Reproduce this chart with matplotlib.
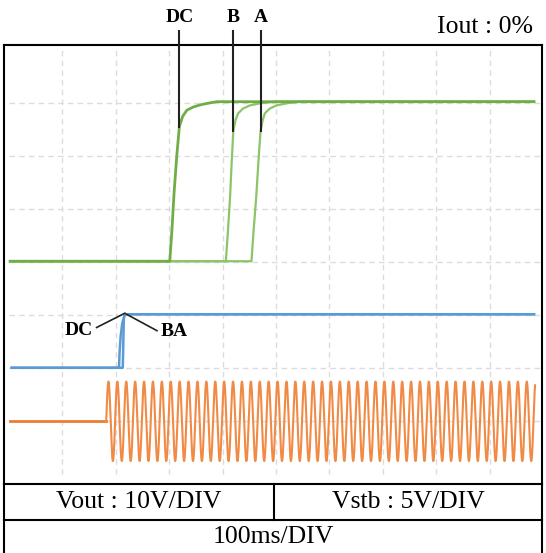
import numpy as np
import matplotlib.pyplot as plt
from matplotlib.lines import Line2D

# time axis in divisions (100 ms/DIV), amplitude in divisions
# Vout traces (green)
vout_dc_t = [0.02, 3.01, 3.05, 3.09, 3.14, 3.19, 3.25, 3.33, 3.45, 3.58, 3.72, 3.89, 9.83]
vout_dc_v = [4.02, 4.02, 4.60, 5.30, 6.00, 6.56, 6.75, 6.87, 6.93, 6.97, 7.00, 7.03, 7.03]
vout_b_t = [0.02, 4.06, 4.10, 4.14, 4.17, 4.20, 4.24, 4.29, 4.38, 4.51, 4.70, 4.98, 9.83]
vout_b_v = [4.02, 4.02, 4.60, 5.25, 5.90, 6.48, 6.68, 6.81, 6.90, 6.96, 7.00, 7.03, 7.03]
vout_a_t = [0.02, 4.54, 4.58, 4.63, 4.67, 4.71, 4.75, 4.79, 4.88, 5.01, 5.20, 5.45, 9.83]
vout_a_v = [4.02, 4.02, 4.60, 5.25, 5.90, 6.48, 6.68, 6.81, 6.90, 6.96, 7.00, 7.03, 7.03]

# Vstb traces (blue)
vstb_dc_t = [0.05, 2.06, 2.07, 2.09, 2.12, 2.17, 9.83]
vstb_dc_v = [2.01, 2.01, 2.30, 2.60, 2.85, 3.02, 3.02]
vstb_ba_t = [0.05, 2.13, 2.15, 2.17, 9.83]
vstb_ba_v = [2.01, 2.01, 2.95, 3.02, 3.02]

# AC input (orange): 60 Hz, switched on at 1.82 div
ac_level = 1.0
ac_amp = 0.75
ac_freq_hz = 60
ms_per_div = 100
ac_on = 1.82
trace_end = 9.85

labels_top = ['DC', 'B', 'A']
labels_top_x = [3.19, 4.20, 4.72]
labels_top_knee = [6.56, 6.48, 6.48]

fig = plt.figure(figsize=(5.46, 5.53), dpi=100)
W, H = 546, 553
ax = fig.add_axes([4 / W, (H - 484) / H, (542 - 4) / W, (484 - 45) / H])
ax.set_xlim(-0.094, 9.98)
ax.set_ylim(-0.183, 8.1)
ax.set_xticks([])
ax.set_yticks([])
for s in ax.spines.values():
    s.set_linewidth(1.5)
    s.set_color('black')

grid_kw = dict(color='#dcdcdc', lw=1.0, ls=(0, (4, 3)), zorder=0)
ax.vlines(range(1, 10), 0, 8, **grid_kw)
ax.hlines(range(1, 8), 0, 10, **grid_kw)

# orange AC trace
t_flat = np.array([0.02, ac_on])
t_ac = np.linspace(ac_on, trace_end, 3000)
cyc_per_div = ac_freq_hz * ms_per_div / 1000
ax.plot(t_flat, [ac_level, ac_level], color='#ed7d31', lw=2.0)
ax.plot(t_ac, ac_level + ac_amp * np.sin(2 * np.pi * cyc_per_div * (t_ac - ac_on)),
        color='#f08a45', lw=1.5)

# blue Vstb
ax.plot(vstb_ba_t, vstb_ba_v, color='#5b9bd5', lw=1.8)
ax.plot(vstb_dc_t, vstb_dc_v, color='#5b9bd5', lw=1.8)

# green Vout
ax.plot(vout_a_t, vout_a_v, color='#8cc46a', lw=1.6)
ax.plot(vout_b_t, vout_b_v, color='#8cc46a', lw=1.6)
ax.plot(vout_dc_t, vout_dc_v, color='#70ad47', lw=2.0)

# top labels
for lab, x, k in zip(labels_top, labels_top_x, labels_top_knee):
    ax.plot([x, x], [8.37, k], color='#222222', lw=1.5, clip_on=False, zorder=5)
    ax.text(x, 8.61, lab, ha='center', va='center', fontsize=14,
            fontweight='bold', family='Liberation Serif', clip_on=False)

# blue labels
ax.plot([1.64, 2.17], [2.77, 3.04], color='#222222', lw=1.2, zorder=5)
ax.plot([2.77, 2.20], [2.71, 3.02], color='#222222', lw=1.2, zorder=5)
ax.text(1.31, 2.72, 'DC', ha='center', va='center', fontsize=14,
        fontweight='bold', family='Liberation Serif')
ax.text(3.09, 2.70, 'BA', ha='center', va='center', fontsize=14,
        fontweight='bold', family='Liberation Serif')

fig.text(533 / W, 1 - 27 / H, 'Iout : 0%', ha='right', va='center',
         fontsize=18.5, family='Liberation Serif')

# bottom table
def fline(x0, y0, x1, y1):
    fig.add_artist(Line2D([x0 / W, x1 / W], [1 - y0 / H, 1 - y1 / H],
                          color='black', lw=1.5))

fline(4, 520, 542, 520)
fline(274, 484, 274, 520)
fline(4, 484, 4, 553)
fline(542, 484, 542, 553)

tkw = dict(ha='center', va='center', fontsize=18.5, family='Liberation Serif')
fig.text(139 / W, 1 - 502 / H, 'Vout : 10V/DIV', **tkw)
fig.text(408 / W, 1 - 502 / H, 'Vstb : 5V/DIV', **tkw)
fig.text(273 / W, 1 - 537 / H, '100ms/DIV', **tkw)

fig.savefig('out.png', dpi=100)
